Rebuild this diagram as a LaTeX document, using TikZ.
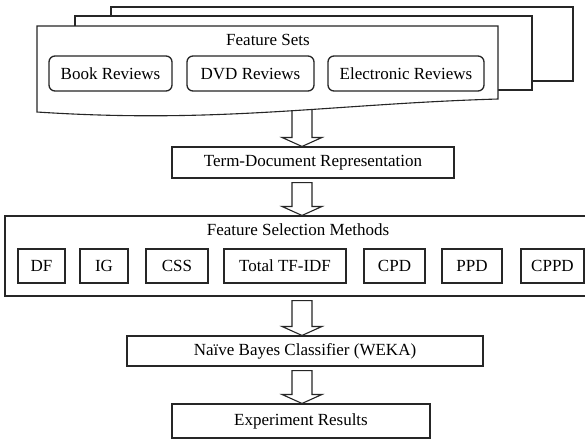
\documentclass[tikz,border=0pt]{standalone}
\usepackage{fontspec}
\setmainfont{Liberation Serif}
\newfontfamily\diagfont{Liberation Serif}
\usetikzlibrary{calc}
\tikzset{
  ln/.style={draw=black!85, line width=1.1pt},
  lbl/.style={font=\diagfont\fontsize{17}{19}\selectfont, inner sep=0pt},
  box/.style={ln, fill=white, inner sep=0pt, font=\diagfont\fontsize{17}{19}\selectfont},
  rbox/.style={box, rounded corners=6pt, line width=1.3pt},
  blockarrow/.style={ln, fill=white, to path={
    let \p1=(\tikztostart), \p2=(\tikztotarget) in
    (\x1-10pt,\y1-4pt) -- (\x1+10pt,\y1-4pt) -- (\x1+10pt,\y2+9pt) -- (\x1+20pt,\y2+9pt)
    -- (\x1,\y2) -- (\x1-20pt,\y2+9pt) -- (\x1-10pt,\y2+9pt) -- cycle}}
}
\begin{document}
\begin{tikzpicture}[x=1pt,y=-1pt]
\useasboundingbox (0,0) rectangle (585,440);
\clip (0,0) rectangle (585,440);
\fill[white] (0,0) rectangle (585,440);
\coordinate (ax) at (302,0);
\coordinate (wave) at (302,100);
% term-document node first (arrow 1 target)
\node[box, minimum width=282pt, minimum height=31pt] (term) at (313,162.5) {Term-Document Representation};
% arrow 1 drawn under the document stack
\draw[blockarrow] (wave) to (ax |- term.north);
% document stack
\draw[ln, fill=white] (111,7) rectangle (573,81);
\draw[ln, fill=white] (75,16) rectangle (532,90);
\draw[ln, fill=white] (37,26) -- (498,26) -- (498,99)
  .. controls (330,104) and (220,124) .. (37,112) -- cycle;
\node[lbl] (fs) at (268,40) {Feature Sets};
\node[rbox, minimum width=123pt, minimum height=35pt] (book) at (110.5,73.5) {Book Reviews};
\node[rbox, minimum width=127pt, minimum height=35pt] (dvd) at (250.5,73.5) {DVD Reviews};
\node[rbox, minimum width=156pt, minimum height=35pt] (elec) at (406,73.5) {Electronic Reviews};
% feature selection methods
\node[box, minimum width=595pt, minimum height=80pt] (fsm) at (302.5,256) {};
\node[lbl] (fsmt) at (298,230) {Feature Selection Methods};
\node[box, minimum width=47pt, minimum height=34pt] (df) at (41.5,266) {DF};
\node[box, minimum width=48pt, minimum height=34pt] (ig) at (104,266) {IG};
\node[box, minimum width=62pt, minimum height=34pt] (css) at (177,266) {CSS};
\node[box, minimum width=122pt, minimum height=34pt] (tfidf) at (285,266) {Total TF-IDF};
\node[box, minimum width=61pt, minimum height=34pt] (cpd) at (394.5,266) {CPD};
\node[box, minimum width=60pt, minimum height=34pt] (ppd) at (472,266) {PPD};
\node[box, minimum width=63pt, minimum height=34pt] (cppd) at (552.5,266) {CPPD};
% classifier and results
\node[box, minimum width=356pt, minimum height=30pt] (nb) at (305,351) {Naïve Bayes Classifier (WEKA)};
\node[box, minimum width=258pt, minimum height=34pt] (res) at (301,421) {Experiment Results};
% arrows
\draw[blockarrow] (ax |- term.south) to (ax |- fsm.north);
\draw[blockarrow] (ax |- fsm.south) to (ax |- nb.north);
\draw[blockarrow] (ax |- nb.south) to (ax |- res.north);
\end{tikzpicture}
\end{document}
